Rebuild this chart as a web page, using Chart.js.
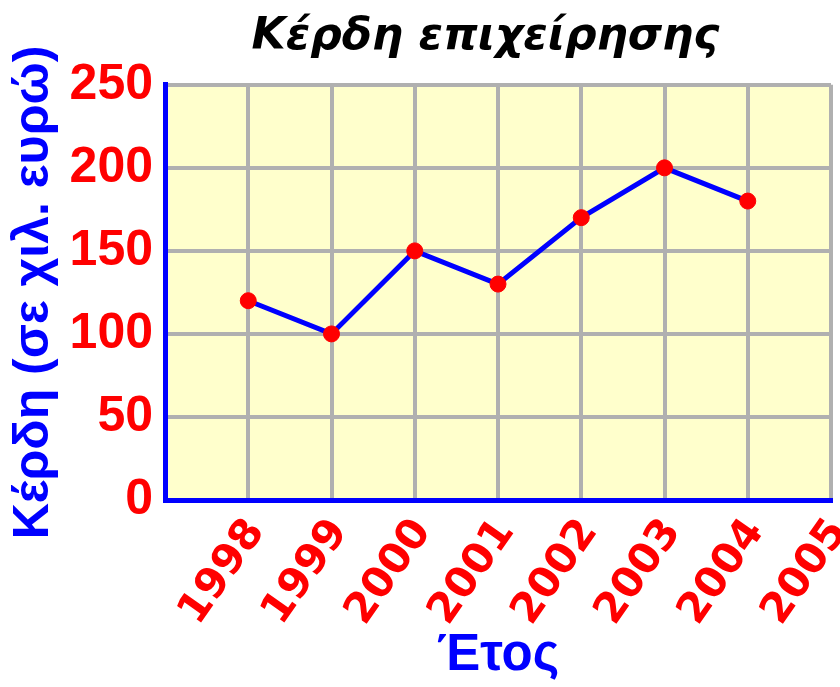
<!DOCTYPE html>
<html>
<head>
<meta charset="utf-8">
<title>Κέρδη επιχείρησης</title>
<script src="https://cdn.jsdelivr.net/npm/chart.js@4"></script>
<style>
  html, body { margin:0; padding:0; background:#fff; }
  #wrap { width:840px; height:687px; }
</style>
</head>
<body>
<div id="wrap"><canvas id="profitChart" width="840" height="687"></canvas></div>
<script>
// ─── DATA ───
const years = [1998, 1999, 2000, 2001, 2002, 2003, 2004];
const profits = [120, 100, 150, 130, 170, 200, 180];   // σε χιλ. ευρώ
const yearTicks = [1998, 1999, 2000, 2001, 2002, 2003, 2004, 2005];
const profitTicks = [0, 50, 100, 150, 200, 250];

const SANS = "'Liberation Sans', Arial, sans-serif";
const DEJAVU = "'DejaVu Sans', sans-serif";
const BLUE = '#0000FF', RED = '#FF0000', GRID = '#B0B0B0';

// pale yellow plot background
const plotBg = {
  id:'plotBg',
  beforeDraw(chart) {
    const {ctx, chartArea:a} = chart;
    ctx.save();
    ctx.fillStyle = '#FFFFCC';
    ctx.fillRect(a.left, a.top, a.right - a.left, a.bottom - a.top);
    ctx.restore();
  }
};

// title sits a little left of the plot centre
const titleNudge = {
  id:'titleNudge',
  afterLayout(chart) {
    if (chart.titleBlock) chart.titleBlock.left -= 25;
  }
};

new Chart(document.getElementById('profitChart').getContext('2d'), {
  type:'line',
  data:{
    datasets:[{
      data: years.map((y,i)=>({x:y, y:profits[i]})),
      borderColor:BLUE, borderWidth:5,
      pointBackgroundColor:RED, pointBorderColor:RED, pointBorderWidth:1,
      pointRadius:8, pointHoverRadius:8,
      tension:0, fill:false
    }]
  },
  options:{
    responsive:false, animation:false,
    layout:{padding:0},
    plugins:{
      legend:{display:false},
      tooltip:{enabled:false},
      title:{
        display:true, text:'Κέρδη επιχείρησης', color:'#000', fullSize:false,
        font:{family:DEJAVU, size:44, weight:'bold', style:'italic', lineHeight:1.2},
        padding:{top:11, bottom:21}
      }
    },
    scales:{
      x:{
        type:'linear', position:'bottom',
        min: yearTicks[0] - 1, max: yearTicks[yearTicks.length-1],
        afterBuildTicks: s => { s.ticks = [yearTicks[0]-1, ...yearTicks].map(v=>({value:v})); },
        grid:{color:GRID, lineWidth:4, drawTicks:false},
        border:{color:BLUE, width:5, z:1},
        ticks:{
          autoSkip:false, minRotation:55, maxRotation:55, padding:10, labelOffset:8,
          color:RED, font:{family:DEJAVU, size:42, weight:'bold'},
          callback: v => yearTicks.includes(v) ? String(v) : ''
        },
        title:{display:true, text:'Έτος', color:BLUE, padding:{top:0, bottom:0},
          font:{family:SANS, size:51, weight:'bold'}},
        afterFit: s => { s.height = 187; s.paddingLeft = 0; s.paddingRight = 9; }
      },
      y:{
        min: profitTicks[0], max: profitTicks[profitTicks.length-1],
        afterBuildTicks: s => { s.ticks = profitTicks.map(v=>({value:v})); },
        grid:{color:GRID, lineWidth:4, drawTicks:false},
        border:{color:BLUE, width:5, z:1},
        ticks:{color:RED, padding:12, font:{family:SANS, size:50, weight:'bold'}},
        title:{display:true, text:'Κέρδη (σε χιλ. ευρώ)', color:BLUE, padding:{top:4, bottom:0},
          font:{family:SANS, size:50, weight:'bold'}},
        afterFit: s => { s.width = 165; }
      }
    }
  },
  plugins:[plotBg, titleNudge]
});
</script>
</body>
</html>
